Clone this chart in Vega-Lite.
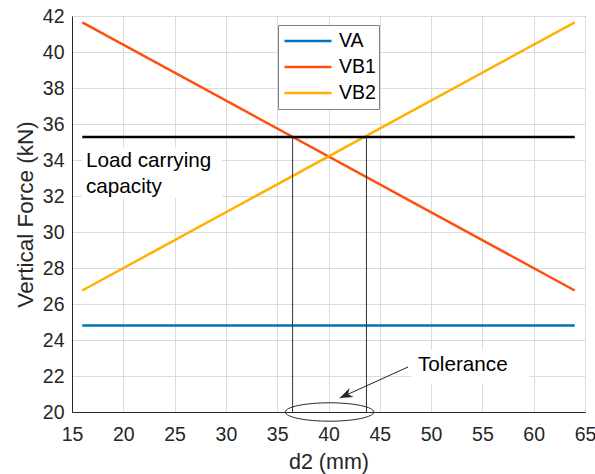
{
  "$schema": "https://vega.github.io/schema/vega-lite/v6.json",
  "width": 513,
  "height": 396,
  "autosize": {"type": "none"},
  "padding": {"left": 72, "top": 16, "right": 10, "bottom": 62},
  "background": "white",
  "config": {
    "font": "Liberation Sans",
    "view": {"stroke": "#262626", "strokeWidth": 1},
    "axis": {
      "domainColor": "#262626",
      "labelColor": "#262626",
      "titleColor": "#262626",
      "gridColor": "#dcdcdc",
      "gridOpacity": 1,
      "labelFontSize": 19.5,
      "titleFontWeight": "normal",
      "ticks": false,
      "labelOverlap": false,
      "labelFlush": false,
      "labelFont": "Liberation Sans",
      "titleFont": "Liberation Sans"
    }
  },
  "datasets": {
    "boxes": [
      {"x": 15.97, "x2": 29.6, "y": 31.88, "y2": 34.71},
      {"x": 48.08, "x2": 59.6, "y": 21.58, "y2": 23.43}
    ],
    "series": [
      {"series": "VA", "x": 16, "y": 24.8},
      {"series": "VA", "x": 64, "y": 24.8},
      {"series": "VB1", "x": 16, "y": 41.65},
      {"series": "VB1", "x": 64, "y": 26.75},
      {"series": "VB2", "x": 16, "y": 26.75},
      {"series": "VB2", "x": 64, "y": 41.65}
    ],
    "capacity": [{"x": 16, "x2": 64, "y": 35.28}],
    "tolerance": [
      {"x": 36.5, "y": 20, "y2": 35.28},
      {"x": 43.7, "y": 20, "y2": 35.28}
    ],
    "labels": [
      {"x": 16.36, "y": 33.62, "text": "Load carrying\ncapacity"},
      {"x": 48.72, "y": 22.28, "text": "Tolerance"}
    ],
    "arrowLine": [{"x": 47.75, "y": 22.5, "x2": 41.1, "y2": 20.78}],
    "arrowHead": [{"x": 41.1, "y": 20.78}],
    "ellipse": [{"x": 40.1, "y": 20.0}]
  },
  "encoding": {
    "x": {"field": "x", "type": "quantitative", "scale": {"domain": [15, 65], "nice": false, "zero": false}, "axis": {"title": "d2 (mm)", "values": [15, 20, 25, 30, 35, 40, 45, 50, 55, 60, 65], "labelPadding": 13, "titlePadding": 8, "titleFontSize": 21.5}},
    "y": {"field": "y", "type": "quantitative", "scale": {"domain": [20, 42], "nice": false, "zero": false}, "axis": {"title": "Vertical Force (kN)", "values": [20, 22, 24, 26, 28, 30, 32, 34, 36, 38, 40, 42], "labelPadding": 8, "titlePadding": 5, "titleFontSize": 22.5}}
  },
  "layer": [
    {
      "data": {"name": "boxes"},
      "mark": {"type": "rect", "fill": "white", "stroke": null},
      "encoding": {
        "x2": {"field": "x2"},
        "y2": {"field": "y2"}
      }
    },
    {
      "data": {"name": "series"},
      "mark": {"type": "line", "strokeWidth": 2.5},
      "encoding": {
        "color": {
          "field": "series",
          "type": "nominal",
          "scale": {"domain": ["VA", "VB1", "VB2"], "range": ["#0072BD", "#FF4F0F", "#FFB000"]},
          "legend": {
            "title": null,
            "orient": "none",
            "legendX": 206,
            "legendY": 9,
            "symbolType": "stroke",
            "symbolSize": 2209,
            "symbolStrokeWidth": 2.5,
            "clipHeight": 26,
            "labelFontSize": 19.5,
            "labelColor": "#000000",
            "labelFont": "Liberation Sans",
            "labelOffset": 6,
            "padding": 3,
            "symbolOffset": 2,
            "rowPadding": 0,
            "strokeColor": "#808080",
            "fillColor": "white"
          }
        }
      }
    },
    {
      "data": {"name": "capacity"},
      "mark": {"type": "rule", "color": "black", "strokeWidth": 2.5},
      "encoding": {
        "x2": {"field": "x2"}
      }
    },
    {
      "data": {"name": "tolerance"},
      "mark": {"type": "rule", "color": "#333333", "strokeWidth": 1},
      "encoding": {
        "y2": {"field": "y2"}
      }
    },
    {
      "data": {"name": "labels"},
      "mark": {"type": "text", "align": "left", "baseline": "alphabetic", "fontSize": 20.7, "lineHeight": 26, "lineBreak": "\n", "color": "#000000", "font": "Liberation Sans"},
      "encoding": {
        "text": {"field": "text"}
      }
    },
    {
      "data": {"name": "arrowLine"},
      "mark": {"type": "rule", "color": "#262626", "strokeWidth": 1},
      "encoding": {
        "x2": {"field": "x2"},
        "y2": {"field": "y2"}
      }
    },
    {
      "data": {"name": "arrowHead"},
      "mark": {"type": "point", "shape": "M0,0L-1,-0.38L-0.7,0L-1,0.38Z", "size": 676, "angle": 155.6, "filled": true, "color": "#262626", "opacity": 1, "strokeWidth": 0},
      "encoding": {}
    },
    {
      "data": {"name": "ellipse"},
      "mark": {"type": "point", "shape": "M-1,0A1,0.208 0 1 0 1,0A1,0.208 0 1 0 -1,0Z", "size": 7815, "filled": false, "stroke": "#262626", "strokeWidth": 1, "opacity": 1},
      "encoding": {}
    }
  ]
}
